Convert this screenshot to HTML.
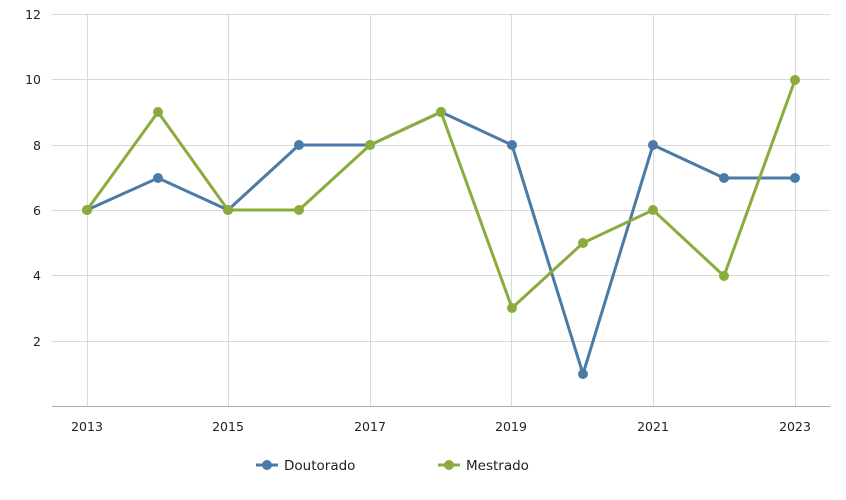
<!DOCTYPE html>
<html><head><meta charset="utf-8"><style>
body{margin:0;background:#fff}
svg{display:block;font-family:"DejaVu Sans","Liberation Sans",sans-serif;font-size:12.5px;fill:#222}
</style></head><body>
<svg width="846" height="500" viewBox="0 0 846 500">
<g stroke="#d9d9d9" stroke-width="1">
<line x1="52" x2="830" y1="14.5" y2="14.5"/>
<line x1="52" x2="830" y1="79.5" y2="79.5"/>
<line x1="52" x2="830" y1="145.5" y2="145.5"/>
<line x1="52" x2="830" y1="210.5" y2="210.5"/>
<line x1="52" x2="830" y1="275.5" y2="275.5"/>
<line x1="52" x2="830" y1="341.5" y2="341.5"/>
<line x1="87.5" x2="87.5" y1="14" y2="406"/>
<line x1="228.5" x2="228.5" y1="14" y2="406"/>
<line x1="370.5" x2="370.5" y1="14" y2="406"/>
<line x1="511.5" x2="511.5" y1="14" y2="406"/>
<line x1="653.5" x2="653.5" y1="14" y2="406"/>
<line x1="795.5" x2="795.5" y1="14" y2="406"/>
</g>
<line x1="52" x2="830" y1="406.5" y2="406.5" stroke="#aaa"/>
<g text-anchor="end">
<text x="41" y="19">12</text><text x="41" y="84">10</text><text x="41" y="150">8</text>
<text x="41" y="215">6</text><text x="41" y="280">4</text><text x="41" y="346">2</text>
</g>
<g text-anchor="middle">
<text x="87" y="431">2013</text><text x="228" y="431">2015</text><text x="370" y="431">2017</text>
<text x="511" y="431">2019</text><text x="653" y="431">2021</text><text x="795" y="431">2023</text>
</g>
<polyline fill="none" stroke="#4a7ba6" stroke-width="3" points="87,210 158,178 228,210 299,145 370,145 441,112 512,145 583,374 653,145 724,178 795,178"/>
<g fill="#4a7ba6">
<circle cx="87" cy="210" r="5"/><circle cx="158" cy="178" r="5"/><circle cx="228" cy="210" r="5"/><circle cx="299" cy="145" r="5"/><circle cx="370" cy="145" r="5"/><circle cx="441" cy="112" r="5"/><circle cx="512" cy="145" r="5"/><circle cx="583" cy="374" r="5"/><circle cx="653" cy="145" r="5"/><circle cx="724" cy="178" r="5"/><circle cx="795" cy="178" r="5"/>
</g>
<polyline fill="none" stroke="#8aac3c" stroke-width="3" points="87,210 158,112 228,210 299,210 370,145 441,112 512,308 583,243 653,210 724,276 795,80"/>
<g fill="#8aac3c">
<circle cx="87" cy="210" r="5"/><circle cx="158" cy="112" r="5"/><circle cx="228" cy="210" r="5"/><circle cx="299" cy="210" r="5"/><circle cx="370" cy="145" r="5"/><circle cx="441" cy="112" r="5"/><circle cx="512" cy="308" r="5"/><circle cx="583" cy="243" r="5"/><circle cx="653" cy="210" r="5"/><circle cx="724" cy="276" r="5"/><circle cx="795" cy="80" r="5"/>
</g>
<line x1="256" x2="278" y1="465" y2="465" stroke="#4a7ba6" stroke-width="3"/>
<circle cx="267" cy="465" r="5" fill="#4a7ba6"/>
<text x="284" y="470" font-size="13.5">Doutorado</text>
<line x1="438" x2="460" y1="465" y2="465" stroke="#8aac3c" stroke-width="3"/>
<circle cx="449" cy="465" r="5" fill="#8aac3c"/>
<text x="466" y="470" font-size="13.5">Mestrado</text>
</svg>
</body></html>
